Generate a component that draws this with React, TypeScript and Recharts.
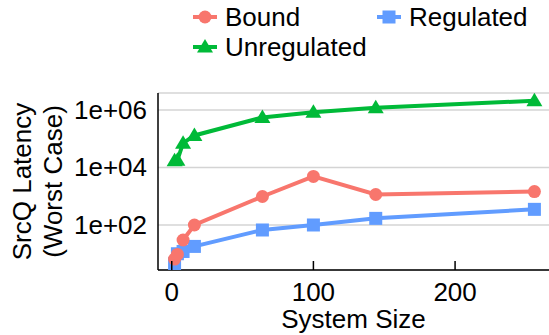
import React from "react";
import { LineChart, Line, XAxis, YAxis, CartesianGrid, Legend, Label } from "recharts";

// System sizes on the x axis
const systemSize = [2, 4, 8, 16, 64, 100, 144, 256];

// Worst-case SrcQ latency per series
const bound = [6.5, 9.5, 30, 100, 980, 4900, 1150, 1450];
const regulated = [4.5, 10, 12, 18, 67, 100, 170, 350];
const unregulated = [17000, 18000, 70000, 130000, 550000, 830000, 1200000, 2100000];

const xTicks = [0, 100, 200];
const yTicks = [100, 10000, 1000000];
const yTickLabels = ["1e+02", "1e+04", "1e+06"];

const data = systemSize.map((size, i) => ({
  size,
  bound: bound[i],
  regulated: regulated[i],
  unregulated: unregulated[i],
}));

const colors = {
  bound: "#F8766D",
  regulated: "#619CFF",
  unregulated: "#00BA38",
};

const FONT = "'Liberation Sans', Arial, sans-serif";
const FS = 26;
const LEGEND_H = 62;

const CircleDot = (props: any) => {
  const { cx, cy, fill } = props;
  if (cx == null || cy == null) return null;
  return <circle cx={cx} cy={cy} r={6.5} fill={fill} />;
};

const SquareDot = (props: any) => {
  const { cx, cy, fill } = props;
  if (cx == null || cy == null) return null;
  return <rect x={cx - 6.5} y={cy - 6.5} width={13} height={13} fill={fill} />;
};

const TriangleDot = (props: any) => {
  const { cx, cy, fill } = props;
  if (cx == null || cy == null) return null;
  return <polygon points={`${cx},${cy - 8} ${cx + 8},${cy + 5.5} ${cx - 8},${cy + 5.5}`} fill={fill} />;
};

// ticks on the x axis point up into the panel
const XTick = (props: any) => {
  const { x, y, payload } = props;
  return (
    <g>
      <line x1={x} x2={x} y1={y - 9} y2={y} stroke="#000" strokeWidth={1.5} />
      <text x={x} y={y + 31} textAnchor="middle" fontFamily={FONT} fontSize={FS} fill="#000">
        {payload.value}
      </text>
    </g>
  );
};

const YTick = (props: any) => {
  const { x, y, payload } = props;
  const idx = yTicks.indexOf(payload.value);
  return (
    <text x={x - 11} y={y + 9} textAnchor="end" fontFamily={FONT} fontSize={FS} fill="#000">
      {yTickLabels[idx]}
    </text>
  );
};

const YTitle = (props: any) => {
  const { viewBox } = props;
  const cy = viewBox.y + viewBox.height / 2;
  const x1 = 31;
  const x2 = 62;
  return (
    <g fontFamily={FONT} fontSize={FS} fill="#000">
      <text x={x1} y={cy} textAnchor="middle" transform={`rotate(-90, ${x1}, ${cy})`}>
        SrcQ Latency
      </text>
      <text x={x2} y={cy} textAnchor="middle" transform={`rotate(-90, ${x2}, ${cy})`}>
        (Worst Case)
      </text>
    </g>
  );
};

const LegendIcon = ({ color, shape }: { color: string; shape: string }) => (
  <svg width={24} height={16} style={{ marginRight: 8, overflow: "visible" }}>
    <line x1={0} x2={24} y1={8} y2={8} stroke={color} strokeWidth={4} />
    {shape === "circle" && <circle cx={12} cy={8} r={6.5} fill={color} />}
    {shape === "square" && <rect x={5.5} y={1.5} width={13} height={13} fill={color} />}
    {shape === "triangle" && <polygon points="12,0 20,13.5 4,13.5" fill={color} />}
  </svg>
);

const legendItems = [
  { name: "Bound", color: colors.bound, shape: "circle" },
  { name: "Regulated", color: colors.regulated, shape: "square" },
  { name: "Unregulated", color: colors.unregulated, shape: "triangle" },
];

const LegendContent = () => (
  <div
    style={{
      display: "grid",
      gridTemplateColumns: "184px auto",
      gridAutoRows: "30px",
      alignContent: "start",
      boxSizing: "border-box",
      height: LEGEND_H,
      paddingLeft: 193,
      paddingTop: 2,
      fontFamily: FONT,
      fontSize: FS,
      lineHeight: "30px",
      color: "#000",
    }}
  >
    {legendItems.map((item) => (
      <div key={item.name} style={{ display: "flex", alignItems: "center" }}>
        <LegendIcon color={item.color} shape={item.shape} />
        <span>{item.name}</span>
      </div>
    ))}
  </div>
);

export default function App() {
  return (
    <div style={{ position: "absolute", left: 0, top: 0, width: 549, height: 335, background: "#fff" }}>
      <LineChart
        width={549}
        height={335}
        data={data}
        margin={{ top: 93 - LEGEND_H, right: 0, bottom: 0, left: 0 }}
      >
        <CartesianGrid vertical={false} stroke="#d4d4d4" strokeWidth={1.5} />
        <XAxis
          dataKey="size"
          type="number"
          domain={[-9.7, 266.3]}
          ticks={xTicks}
          allowDataOverflow
          height={65}
          tickSize={0}
          tickMargin={0}
          tick={<XTick />}
          axisLine={{ stroke: "#000", strokeWidth: 1.5 }}
          tickLine={false}
        >
          <Label value="System Size" position="insideBottom" offset={7} fontFamily={FONT} fontSize={FS} fill="#000" />
        </XAxis>
        <YAxis
          type="number"
          scale="log"
          domain={[2.72, 3.9e6]}
          ticks={yTicks}
          allowDataOverflow
          width={158}
          tickSize={0}
          tickMargin={0}
          tick={<YTick />}
          axisLine={{ stroke: "#000", strokeWidth: 1.5 }}
          tickLine={false}
          label={<YTitle />}
        />
        <Legend
          verticalAlign="top"
          wrapperStyle={{ top: 0, left: 0, width: 549 }}
          content={<LegendContent />}
        />
        <Line
          dataKey="regulated"
          stroke={colors.regulated}
          strokeWidth={4}
          dot={<SquareDot fill={colors.regulated} />}
          isAnimationActive={false}
        />
        <Line
          dataKey="bound"
          stroke={colors.bound}
          strokeWidth={4}
          dot={<CircleDot fill={colors.bound} />}
          isAnimationActive={false}
        />
        <Line
          dataKey="unregulated"
          stroke={colors.unregulated}
          strokeWidth={4}
          dot={<TriangleDot fill={colors.unregulated} />}
          isAnimationActive={false}
        />
      </LineChart>
    </div>
  );
}
